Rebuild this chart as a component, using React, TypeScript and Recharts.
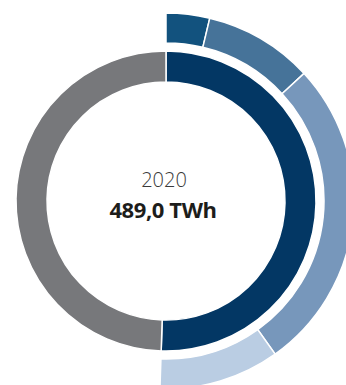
import React from 'react'
import { PieChart, Pie, Cell, Label } from 'recharts'

// Stromerzeugung 2020 – innen: erneuerbar vs. konventionell, außen: Aufteilung der Erneuerbaren
const year = '2020'
const totalLabel = '489,0 TWh'

const innerNames = ['Erneuerbare', 'Konventionelle']
const innerValues = [247.0, 242.0]
const innerColors = ['#033764', '#77787b']

const outerNames = ['Wasserkraft', 'Biomasse', 'Wind', 'Photovoltaik']
const outerValues = [18.3, 45.9, 132.1, 50.7]
const outerColors = ['#12527e', '#467399', '#7797bb', '#bacde3']

const innerData = innerNames.map((name, i) => ({ name, value: innerValues[i] }))
// the grey part is kept as an invisible slice so both rings share one scale
const outerData = [
  ...outerNames.map((name, i) => ({ name, value: outerValues[i] })),
  { name: 'rest', value: innerValues[1] },
]

const CX = 166
const CY = 201

function CenterText({ viewBox }: any) {
  const cx = viewBox?.cx ?? CX
  const cy = viewBox?.cy ?? CY
  return (
    <g>
      <text x={cx - 2} y={cy - 14} textAnchor="middle" style={{ fontFamily: "'Open Sans', sans-serif", fontSize: 20, fontWeight: 300 }} fill="#3a3a3a">
        {year}
      </text>
      <text x={cx - 3} y={cy + 17} textAnchor="middle" style={{ fontFamily: "'Open Sans', sans-serif", fontSize: 22, fontWeight: 700, letterSpacing: -0.4 }} fill="#1d1d1b">
        {totalLabel}
      </text>
    </g>
  )
}

export default function App() {
  return (
    <div style={{ position: 'absolute', left: 0, top: 0, width: 346, height: 385, background: '#fff', overflow: 'hidden' }}>
      <PieChart width={346} height={385} margin={{ top: 0, right: 0, bottom: 0, left: 0 }}>
        <Pie
          data={innerData}
          dataKey="value"
          cx={CX}
          cy={CY}
          innerRadius={119}
          outerRadius={150}
          startAngle={90}
          endAngle={-270}
          stroke="#fff"
          strokeWidth={1.5}
          isAnimationActive={false}
        >
          {innerData.map((_d, i) => (
            <Cell key={i} fill={innerColors[i]} />
          ))}
          <Label position="center" content={<CenterText />} />
        </Pie>
        <Pie
          data={outerData}
          dataKey="value"
          cx={CX}
          cy={CY}
          innerRadius={158}
          outerRadius={188}
          startAngle={90}
          endAngle={-270}
          stroke="#fff"
          strokeWidth={1.5}
          isAnimationActive={false}
        >
          {outerData.map((_d, i) => (
            <Cell key={i} fill={i < outerColors.length ? outerColors[i] : 'transparent'} stroke={i < outerColors.length ? '#fff' : 'none'} />
          ))}
        </Pie>
      </PieChart>
    </div>
  )
}
